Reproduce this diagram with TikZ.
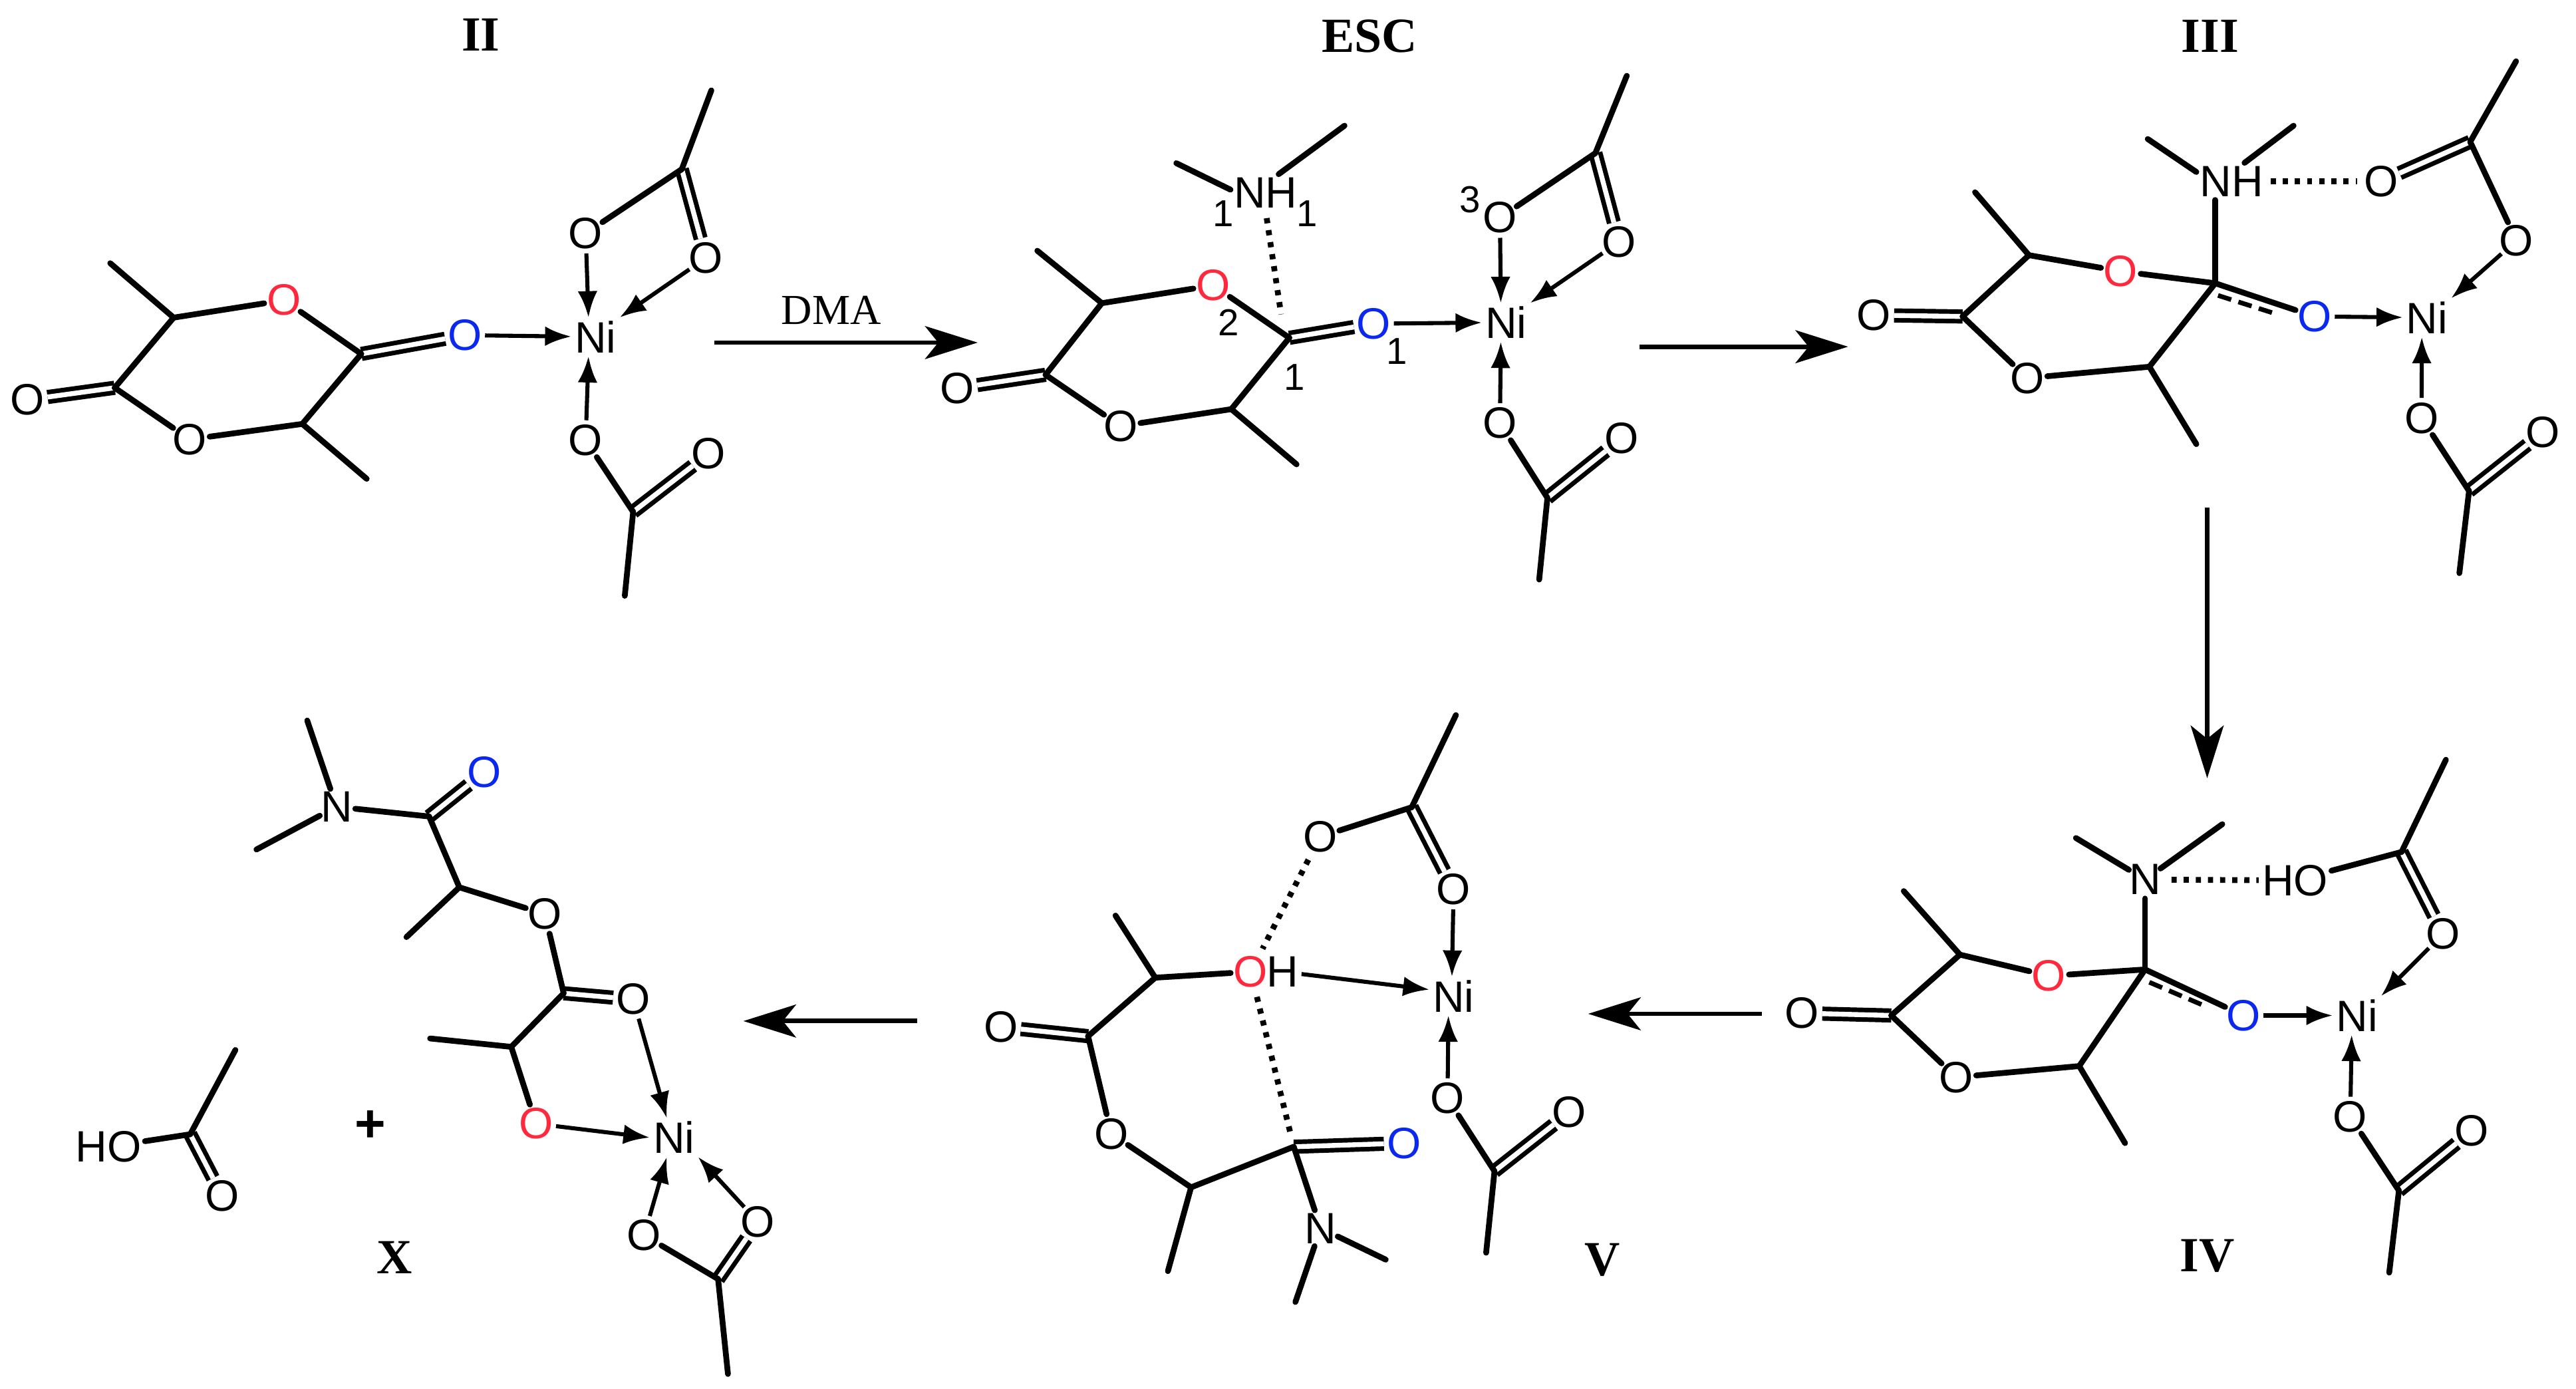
\documentclass[tikz,border=0pt]{standalone}
\usepackage{fontspec}
\setmainfont{Liberation Sans}
\newfontfamily\tagfamily{Liberation Serif}
\usetikzlibrary{arrows.meta}
\definecolor{oxred}{RGB}{255,40,60}
\definecolor{oxblue}{RGB}{10,40,240}
\newcommand{\atomfont}{\fontsize{7.6}{9}\selectfont}
\tikzset{
  atom/.style={circle,inner sep=0pt,minimum size=2.5mm,outer sep=-.5pt,font=\atomfont},
  grp/.style={rectangle,inner sep=.6pt,outer sep=0pt,font=\atomfont},
  num/.style={inner sep=0pt,font=\fontsize{6.5}{8}\selectfont},
  tagname/.style={inner sep=0pt,font=\tagfamily\bfseries\fontsize{8.5}{10}\selectfont},
  plussign/.style={inner sep=0pt,font=\bfseries\fontsize{9.2}{10}\selectfont},
  reagent/.style={inner sep=0pt,font=\tagfamily\fontsize{7.4}{9}\selectfont},
  bond/.style={line width=1pt,line cap=round},
  dbl/.style={double,double distance=.85pt,line width=.8pt},
  dative/.style={line width=.7pt,-{Latex[length=1.6mm,width=1.2mm]}},
  hbond/.style={line width=1pt,dash pattern=on .9pt off 1.2pt},
  partial/.style={line width=.8pt,dash pattern=on 2.4pt off 1.3pt},
  react/.style={line width=.8pt,-{Stealth[length=3.2mm,width=2mm,inset=.8mm]}}
}
\begin{document}
\begin{tikzpicture}[x=.1mm,y=-.1mm]
  \useasboundingbox (0,0) rectangle (1568,845);
  % II
  \draw
    (292.7,21) node[tagname] (aTag){II}
    (362.5,205) node[grp] (aNi){Ni}
    (283,204) node[atom,text=oxblue] (aOb){O}
    (356.5,142) node[atom] (aO1){O}
    (429.7,157) node[atom] (aO2){O}
    (356.5,268) node[atom] (aO3){O}
    (431.4,276) node[atom] (aO4){O}
    (16.8,243.3) node[atom] (aO5){O}
    (115.5,267.4) node[atom] (aO6){O}
    (172.9,182.7) node[atom,text=oxred] (aOr){O}
    (219.9,215.4) coordinate (aC1)
    (105.7,193.3) coordinate (aC2)
    (69.8,236) coordinate (aC3)
    (184,258) coordinate (aC4)
    (415,103) coordinate (aC5)
    (385.4,311.5) coordinate (aC6)
    (67.1,160.2) coordinate (aMe1)
    (223.2,291.4) coordinate (aMe2)
    (433,55) coordinate (aMe3)
    (380.3,362.6) coordinate (aMe4);
  \draw[dbl] (aC1) to (aOb);
  \draw[dbl] (aC3) to (aO5);
  \draw[dbl] (aC5) to (aO2);
  \draw[dbl] (aC6) to (aO4);
  \begin{scope}[bond]
    \draw (aC1) to (aOr);
    \draw (aOr) to (aC2);
    \draw (aC2) to (aMe1);
    \draw (aC2) to (aC3);
    \draw (aC3) to (aO6);
    \draw (aO6) to (aC4);
    \draw (aC4) to (aC1);
    \draw (aC4) to (aMe2);
    \draw (aC5) to (aMe3);
    \draw (aC5) to (aO1);
    \draw (aO3) to (aC6);
    \draw (aC6) to (aMe4);
  \end{scope}
  \begin{scope}[dative]
    \draw (aOb) to (aNi);
    \draw (aO1) to (aNi.110);
    \draw (aO2) to (aNi.north east);
    \draw (aO3) to (aNi.250);
  \end{scope}
  % ESC
  \draw
    (833.5,22) node[tagname] (bTag){ESC}
    (916.7,196.2) node[grp] (bNi){Ni}
    (770.4,117.3) node[grp] (bNH){NH}
    (836.2,197) node[atom,text=oxblue] (bOb){O}
    (913,132.5) node[atom] (bO1){O}
    (985.5,147.2) node[atom] (bO2){O}
    (913,257.6) node[atom] (bO3){O}
    (986.9,266.9) node[atom] (bO4){O}
    (582.7,236.2) node[atom] (bO5){O}
    (682.1,259.3) node[atom] (bO6){O}
    (738.5,173.7) node[atom,text=oxred] (bOr){O}
    (744.5,130) node[num] (bLa){1}
    (795.5,130) node[num] (bLb){1}
    (747.9,196.2) node[num] (bLc){2}
    (850.3,213.9) node[num] (bLd){1}
    (788.1,229.4) node[num] (bLe){1}
    (894.6,121.4) node[num] (bLf){3}
    (784.8,205.6) coordinate (bC1)
    (670.7,184.5) coordinate (bC2)
    (636.4,228.1) coordinate (bC3)
    (749.5,249) coordinate (bC4)
    (971.1,93.2) coordinate (bC5)
    (941.9,303) coordinate (bC6)
    (631.4,152.6) coordinate (bMe1)
    (789.2,282.6) coordinate (bMe2)
    (990.2,46.1) coordinate (bMe3)
    (936.9,352.7) coordinate (bMe4)
    (716,99.3) coordinate (bMe5)
    (818.4,76.5) coordinate (bMe6)
    (779.8,191.3) coordinate (bDot);
  \draw[dbl] (bC1) to (bOb);
  \draw[dbl] (bC3) to (bO5);
  \draw[dbl] (bC5) to (bO2);
  \draw[dbl] (bC6) to (bO4);
  \begin{scope}[bond]
    \draw (bC1) to (bOr);
    \draw (bOr) to (bC2);
    \draw (bC2) to (bMe1);
    \draw (bC2) to (bC3);
    \draw (bC3) to (bO6);
    \draw (bO6) to (bC4);
    \draw (bC4) to (bC1);
    \draw (bC4) to (bMe2);
    \draw (bC5) to (bMe3);
    \draw (bC5) to (bO1);
    \draw (bO3) to (bC6);
    \draw (bC6) to (bMe4);
    \draw (bMe5) to (bNH.175);
    \draw (bMe6) to (bNH.55);
  \end{scope}
  \draw[hbond,shorten <=1.2pt] (bNH.south) to (bDot);
  \begin{scope}[dative]
    \draw (bOb) to (bNi);
    \draw (bO1) to (bNi.105);
    \draw (bO2) to (bNi.north east);
    \draw (bO3) to (bNi.255);
  \end{scope}
  % III
  \draw
    (1345.2,22) node[tagname] (cTag){III}
    (1477.3,193.3) node[grp] (cNi){Ni}
    (1358.3,110.4) node[grp] (cNH){NH}
    (1408.9,192.6) node[atom,text=oxblue] (cOb){O}
    (1449.3,110.4) node[atom] (cO1){O}
    (1531.8,146.4) node[atom] (cO2){O}
    (1474,254.4) node[atom] (cO3){O}
    (1548,263) node[atom] (cO4){O}
    (1140.7,191.8) node[atom] (cO5){O}
    (1234,230.1) node[atom] (cO6){O}
    (1290.9,165.1) node[atom,text=oxred] (cOr){O}
    (1348.4,172.4) coordinate (cC1)
    (1235,155.3) coordinate (cC2)
    (1194.6,192.6) coordinate (cC3)
    (1308.3,223.2) coordinate (cC4)
    (1503.6,86.3) coordinate (cC5)
    (1502.9,298.8) coordinate (cC6)
    (1202.2,117) coordinate (cMe1)
    (1336.9,270.3) coordinate (cMe2)
    (1531.5,37.3) coordinate (cMe3)
    (1497,348.8) coordinate (cMe4)
    (1307.3,84.6) coordinate (cMe5)
    (1396.1,76.5) coordinate (cMe6)
    (1350.1,179.8) coordinate (cDa)
    (1384.6,190.8) coordinate (cDb);
  \draw[dbl] (cC3) to (cO5);
  \draw[dbl] (cC5) to (cO1);
  \draw[dbl] (cC6) to (cO4);
  \draw[partial] (cDa) to (cDb);
  \begin{scope}[bond]
    \draw (cC1) to (cOb);
    \draw (cC1) to (cOr);
    \draw (cOr) to (cC2);
    \draw (cC2) to (cMe1);
    \draw (cC2) to (cC3);
    \draw (cC3) to (cO6);
    \draw (cO6) to (cC4);
    \draw (cC4) to (cC1);
    \draw (cC4) to (cMe2);
    \draw (cC5) to (cMe3);
    \draw (cC5) to (cO2);
    \draw (cO3) to (cC6);
    \draw (cC6) to (cMe4);
    \draw (cMe5) to (cNH.165);
    \draw (cMe6) to (cNH.55);
    \draw (cC1) to (cC1 |- cNH.south);
  \end{scope}
  \draw[hbond,shorten <=.7pt,shorten >=.7pt] (cNH) to (cO1);
  \begin{scope}[dative]
    \draw (cOb) to (cNi);
    \draw (cO2) to (cNi.north east);
    \draw (cO3) to (cNi.255);
  \end{scope}
  % IV
  \draw
    (1343.5,764.4) node[tagname] (dTag){IV}
    (1434.6,618) node[grp] (dNi){Ni}
    (1305.7,535.3) node[atom] (dN){N}
    (1397,535.8) node[grp] (dHO){HO}
    (1365.5,618) node[atom,text=oxblue] (dOb){O}
    (1487.1,568.4) node[atom] (dO2){O}
    (1430.6,679.7) node[atom] (dO3){O}
    (1504.6,688.1) node[atom] (dO4){O}
    (1097,616.6) node[atom] (dO5){O}
    (1190.7,655.6) node[atom] (dO6){O}
    (1247.2,593.9) node[atom,text=oxred] (dOr){O}
    (1305.7,590) coordinate (dC1)
    (1193,581) coordinate (dC2)
    (1151.2,618) coordinate (dC3)
    (1265.6,648.8) coordinate (dC4)
    (1461.8,518.5) coordinate (dC5)
    (1460.2,724.6) coordinate (dC6)
    (1158.8,542.3) coordinate (dMe1)
    (1293.5,695.7) coordinate (dMe2)
    (1488.8,462.4) coordinate (dMe3)
    (1454.3,774.5) coordinate (dMe4)
    (1263.6,510) coordinate (dMe5)
    (1352.7,501.6) coordinate (dMe6)
    (1308.3,597.8) coordinate (dDa)
    (1342.5,612.4) coordinate (dDb);
  \draw[dbl] (dC3) to (dO5);
  \draw[dbl] (dC5) to (dO2);
  \draw[dbl] (dC6) to (dO4);
  \draw[partial] (dDa) to (dDb);
  \begin{scope}[bond]
    \draw (dC1) to (dOb);
    \draw (dC1) to (dOr);
    \draw (dOr) to (dC2);
    \draw (dC2) to (dMe1);
    \draw (dC2) to (dC3);
    \draw (dC3) to (dO6);
    \draw (dO6) to (dC4);
    \draw (dC4) to (dC1);
    \draw (dC4) to (dMe2);
    \draw (dC5) to (dMe3);
    \draw (dC5) to (dHO);
    \draw (dO3) to (dC6);
    \draw (dC6) to (dMe4);
    \draw (dMe5) to (dN);
    \draw (dMe6) to (dN);
    \draw (dC1) to (dN);
  \end{scope}
  \draw[hbond,shorten <=1.3pt] (dN) to (dHO);
  \begin{scope}[dative]
    \draw (dOb) to (dNi);
    \draw (dO2) to (dNi.north east);
    \draw (dO3) to (dNi.255);
  \end{scope}
  % V
  \draw
    (975.5,766.6) node[tagname] (eTag){V}
    (884.8,606.2) node[grp] (eNi){Ni}
    (803.9,747.5) node[atom] (eN){N}
    (854.6,695.7) node[atom,text=oxblue] (eOb){O}
    (803.6,509.2) node[atom] (eO1){O}
    (884.8,541.2) node[atom] (eO2){O}
    (881.1,668.5) node[atom] (eO3){O}
    (955.3,676.9) node[atom] (eO4){O}
    (609.2,625) node[atom] (eO5){O}
    (676.4,690) node[atom] (eO6){O}
    (761.3,591.4) node[atom,text=oxred] (eOr){O}
    (780.8,591.4) node[atom] (eH){H}
    (787.5,697.9) coordinate (eC1)
    (703.2,595) coordinate (eC2)
    (662.3,630.6) coordinate (eC3)
    (725,722.6) coordinate (eC4)
    (859.3,491.3) coordinate (eC5)
    (909.7,712.8) coordinate (eC6)
    (679,557.2) coordinate (eMe1)
    (710.9,773.6) coordinate (eMe2)
    (886.2,435.2) coordinate (eMe3)
    (904.6,762.4) coordinate (eMe4)
    (843.5,766.6) coordinate (eMe5)
    (788.5,792.4) coordinate (eMe6);
  \draw[dbl] (eC1) to (eOb);
  \draw[dbl] (eC3) to (eO5);
  \draw[dbl] (eC5) to (eO2);
  \draw[dbl] (eC6) to (eO4);
  \begin{scope}[bond]
    \draw (eC2) to (eOr);
    \draw (eC2) to (eMe1);
    \draw (eC2) to (eC3);
    \draw (eC3) to (eO6);
    \draw (eO6) to (eC4);
    \draw (eC4) to (eC1);
    \draw (eC4) to (eMe2);
    \draw (eC1) to (eN);
    \draw (eN) to (eMe5);
    \draw (eN) to (eMe6);
    \draw (eC5) to (eMe3);
    \draw (eC5) to (eO1);
    \draw (eO3) to (eC6);
    \draw (eC6) to (eMe4);
  \end{scope}
  \draw[hbond,shorten <=1pt,shorten >=1pt] (eO1) to (eOr);
  \draw[hbond,shorten <=1pt,shorten >=2.5pt] (eOr) to (eC1);
  \begin{scope}[dative]
    \draw (eH) to (eNi.165);
    \draw (eO2) to (eNi.95);
    \draw (eO3) to (eNi.255);
  \end{scope}
  % X and the acid
  \draw
    (240,765.2) node[tagname] (fTag){X}
    (225.6,685.3) node[plussign] (fPlus){+}
    (410.2,692.3) node[grp] (fNi){Ni}
    (204.8,491) node[atom] (fN){N}
    (294.7,470) node[atom,text=oxblue] (fOb){O}
    (385.4,608.2) node[atom] (fO1){O}
    (392.1,751.8) node[atom] (fO3){O}
    (461.3,743.6) node[atom] (fO4){O}
    (331.7,556.3) node[atom] (fO6){O}
    (326.3,683.9) node[atom,text=oxred] (fOr){O}
    (343.1,604.5) coordinate (fC1)
    (311.2,637.1) coordinate (fC2)
    (279.6,540) coordinate (fC4)
    (261.2,496.9) coordinate (fC5)
    (437.1,778.4) coordinate (fC6)
    (261.8,632) coordinate (fMe1)
    (247.4,570.3) coordinate (fMe2)
    (443.1,836.2) coordinate (fMe4)
    (187,438.5) coordinate (fMe5)
    (156.1,517) coordinate (fMe6)
    (66.1,697.9) node[grp] (gHO){HO}
    (135.3,727.9) node[atom] (gO){O}
    (115.8,690.3) coordinate (gC)
    (143.3,639) coordinate (gMe);
  \draw[dbl] (fC1) to (fO1);
  \draw[dbl] (fC5) to (fOb);
  \draw[dbl] (fC6) to (fO4);
  \draw[dbl] (gC) to (gO);
  \begin{scope}[bond]
    \draw (fN) to (fMe5);
    \draw (fN) to (fMe6);
    \draw (fN) to (fC5);
    \draw (fC5) to (fC4);
    \draw (fC4) to (fMe2);
    \draw (fC4) to (fO6);
    \draw (fO6) to (fC1);
    \draw (fC1) to (fC2);
    \draw (fC2) to (fMe1);
    \draw (fC2) to (fOr);
    \draw (fO3) to (fC6);
    \draw (fC6) to (fMe4);
    \draw (gMe) to (gC);
    \draw (gC) to (gHO);
  \end{scope}
  \begin{scope}[dative]
    \draw (fO1) to (fNi.110);
    \draw (fOr) to (fNi.west);
    \draw (fO3) to (fNi.250);
    \draw (fO4) to (fNi.south east);
  \end{scope}
  % reaction arrows
  \draw
    (506,189) node[reagent] (dma){DMA}
    (434.7,208.5) coordinate (r1a)
    (595.1,208.5) coordinate (r1b)
    (998,211) coordinate (r2a)
    (1124.9,211) coordinate (r2b)
    (1343.5,309) coordinate (r3a)
    (1343.5,473.6) coordinate (r3b)
    (1072.3,617) coordinate (r4a)
    (966.7,617) coordinate (r4b)
    (558.2,621.4) coordinate (r5a)
    (452.5,621.4) coordinate (r5b);
  \begin{scope}[react]
    \draw (r1a) to (r1b);
    \draw (r2a) to (r2b);
    \draw (r3a) to (r3b);
    \draw (r4a) to (r4b);
    \draw (r5a) to (r5b);
  \end{scope}
\end{tikzpicture}
\end{document}
